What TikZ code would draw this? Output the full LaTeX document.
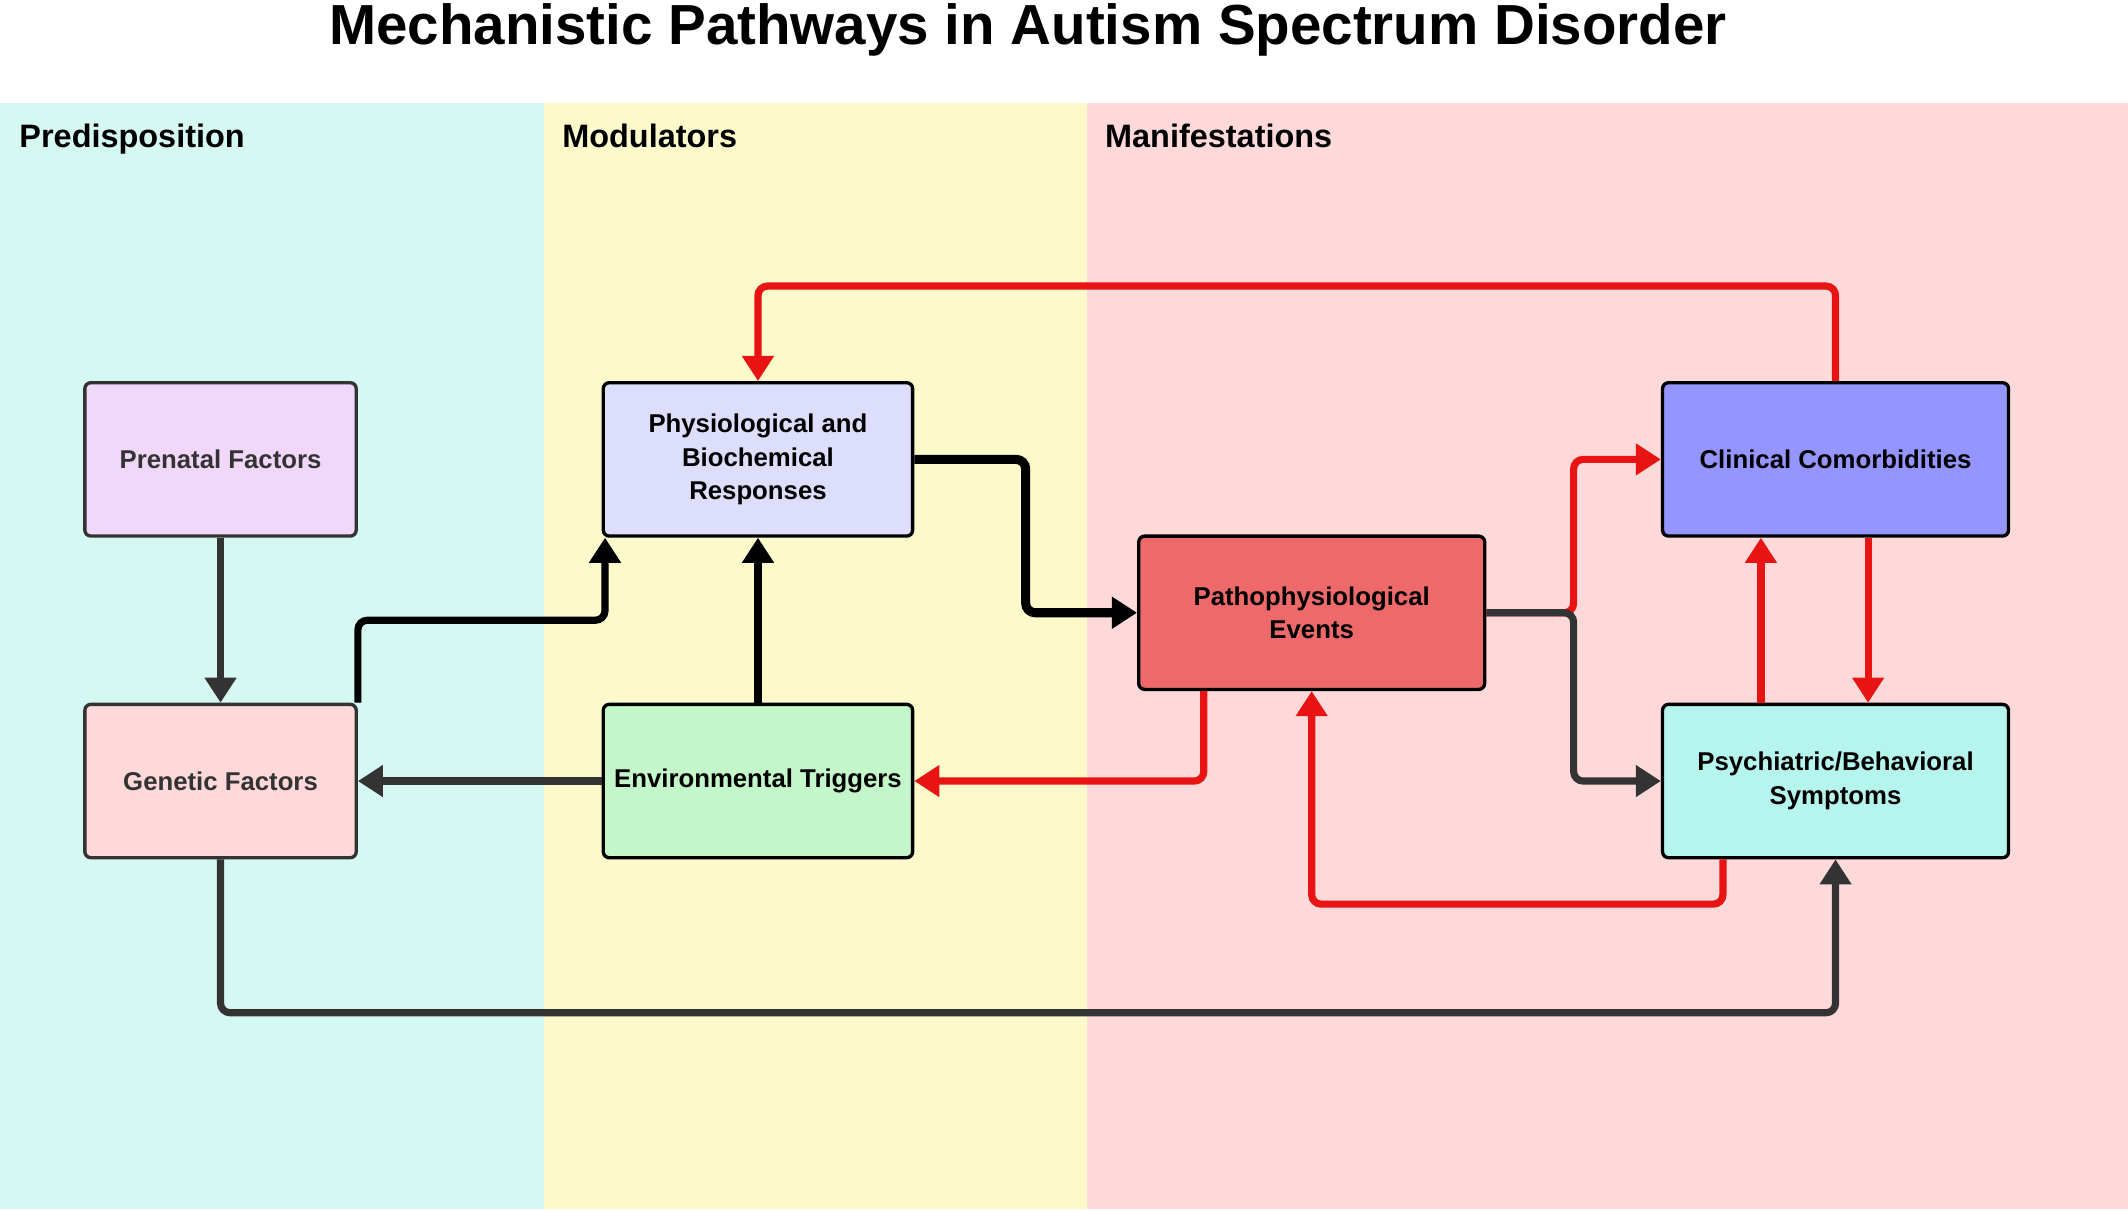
\documentclass[tikz,border=0pt]{standalone}
\usepackage{fontspec}
\setmainfont{Liberation Sans}
\usepackage{tikz}
\usetikzlibrary{calc,positioning,arrows.meta}
\usepackage{xcolor}
\definecolor{predcol}{HTML}{D5F8F2}
\definecolor{modcol}{HTML}{FCF9CB}
\definecolor{mancol}{HTML}{FED9DA}
\definecolor{prefill}{HTML}{F1D8FB}
\definecolor{genfill}{HTML}{FFD9DA}
\definecolor{physfill}{HTML}{DDDEFB}
\definecolor{envfill}{HTML}{C3F7C9}
\definecolor{patfill}{HTML}{EE6969}
\definecolor{clifill}{HTML}{9595FF}
\definecolor{psyfill}{HTML}{B5F5EE}
\definecolor{redline}{HTML}{E81313}
\definecolor{darkline}{HTML}{333333}

\begin{document}
\begin{tikzpicture}[x=0.02cm, y=-0.02cm, >={Triangle[length=0.37cm,width=0.45cm]}]
      \tikzset{
	  box/.style={rectangle, draw=black, line width=1.4pt, rounded corners=2.5pt, minimum width=5.1cm, minimum height=2.26cm, align=center, inner sep=0pt, font=\fontsize{10.8}{14.2}\selectfont\bfseries},
	  softbox/.style={box, draw=darkline, text=darkline, minimum width=4.0cm},
	  band/.style={anchor=base west, inner sep=0pt, font=\fontsize{13.6}{16}\selectfont\bfseries},
	  link/.style={line width=3pt, rounded corners=0.14cm, ->},
	  redlink/.style={link, draw=redline},
	  darklink/.style={link, draw=darkline},
	  blacklink/.style={link, draw=black},
      }
      \useasboundingbox (0,0) rectangle (1568,892);
      \fill[predcol] (0,76) rectangle (401,891);
      \fill[modcol] (401,76) rectangle (801,891);
      \fill[mancol] (801,76) rectangle (1568,891);

      \node (title) at (757.5,33) [anchor=base, font=\fontsize{23.7}{28}\selectfont\bfseries] {Mechanistic Pathways in Autism Spectrum Disorder};
      \node (lpred) at (14,108.5) [band] {Predisposition};
      \node (lmod) at (414,108.5) [band] {Modulators};
      \node (lman) at (814,108.5) [band] {Manifestations};

      \node (pre) at (162.5,338.5) [softbox, fill=prefill] {Prenatal Factors};
      \node (gen) at (162.5,575.5) [softbox, fill=genfill] {Genetic Factors};
      \node (phys) at (558.5,338.5) [box, fill=physfill, minimum width=4.56cm] {Physiological and\\Biochemical\\Responses};
      \node (env) at (558.5,575.5) [box, fill=envfill, minimum width=4.56cm] {Environmental Triggers};
      \node (pat) at (966.5,451.5) [box, fill=patfill] {Pathophysiological\\Events};
      \node (cli) at (1352.5,338.5) [box, fill=clifill] {Clinical Comorbidities};
      \node (psy) at (1352.5,575.5) [box, fill=psyfill] {Psychiatric/Behavioral\\Symptoms};

      \draw [darklink] (pre) -- (gen);
      \draw [darklink] (env) -- (gen);
      \draw [blacklink] (gen.north east) |- ($(gen.north east)!.5!(phys.south west)$) -| ([xshift=0.05cm]phys.south west);
      \draw [blacklink] (env) -- (phys);
      \draw [blacklink, line width=3.8pt] (phys.east) -| ($(phys.east)!.5!(pat.west)$) |- (pat.west);

      \draw [redlink] (pat.east) -| ($(pat.east)!.5!(cli.west)$) |- (cli.west);
      \draw [darklink] (pat.east) -| ($(pat.east)!.5!(psy.west)$) |- (psy.west);
      \draw [redlink] (cli.north) -- ++(0,-70) -| (phys.north);
      \draw [redlink] ([xshift=0.48cm]cli.south) -- ([xshift=0.48cm]psy.north);
      \draw [redlink] ([xshift=-1.1cm]psy.north) -- ([xshift=-1.1cm]cli.south);
      \draw [redlink] ([xshift=-1.59cm]pat.south) |- (env.east);
      \draw [redlink] ([xshift=-1.66cm]psy.south) -- ++(0,33) -| (pat.south);
      \draw [darklink] (gen.south) -- ++(0,113) -| (psy.south);
    \end{tikzpicture}
\end{document}
